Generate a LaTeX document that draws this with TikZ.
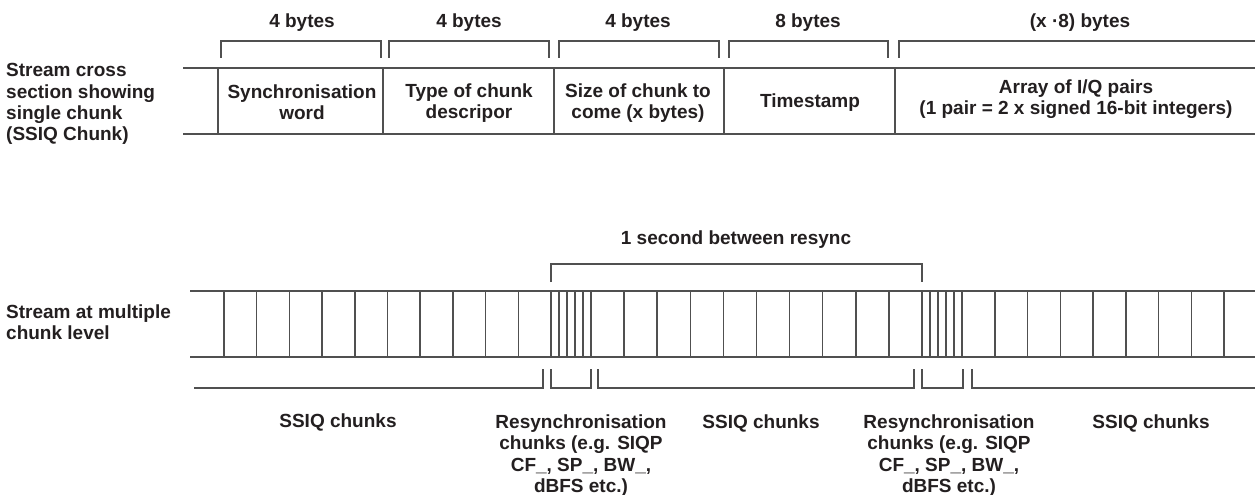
\documentclass[tikz,border=0pt]{standalone}
\usepackage{fontspec}
\setmainfont{Liberation Sans}
\definecolor{linegrey}{HTML}{505050}
\definecolor{textdark}{HTML}{231F20}
\tikzset{
  ln/.style={draw=linegrey, line width=1.5pt},
  lbl/.style={anchor=base, inner sep=0pt, text=textdark, font=\fontsize{19}{21}\bfseries\selectfont},
  lbll/.style={lbl, anchor=base west},
}
\begin{document}
\begin{tikzpicture}[x=1pt,y=-1pt]
\useasboundingbox (0,0) rectangle (1255,495);
% ---------- top: single chunk ----------
\node[lbll] (l1a) at (6,76.5) {Stream cross};
\node[lbll] (l1b) at (6,98) {section showing};
\node[lbll] (l1c) at (6,119) {single chunk};
\node[lbll] (l1d) at (6,140) {(SSIQ Chunk)};

\draw[ln] (183,68) -- (1256,68);
\draw[ln] (183,134) -- (1256,134);
\foreach \x in {218,383,554,724,895} \draw[ln] (\x,68) -- (\x,134);

% byte brackets
\draw[ln] (221,58) -- (221,41) -- (381,41) -- (381,58);
\draw[ln] (389,58) -- (389,41) -- (549,41) -- (549,58);
\draw[ln] (559,58) -- (559,41) -- (719,41) -- (719,58);
\draw[ln] (729,58) -- (729,41) -- (888,41) -- (888,58);
\draw[ln] (899,58) -- (899,41) -- (1256,41);

\node[lbl] (b1) at (302,27.5) {4 bytes};
\node[lbl] (b2) at (469,27.5) {4 bytes};
\node[lbl] (b3) at (638,27.5) {4 bytes};
\node[lbl] (b4) at (808,27.5) {8 bytes};
\node[lbl] (b5) at (1080,27.5) {(x ·8) bytes};

\node[lbl] (c1a) at (302,98.5) {Synchronisation};
\node[lbl] (c1b) at (302,119.5) {word};
\node[lbl] (c2a) at (469,97) {Type of chunk};
\node[lbl] (c2b) at (469,118) {descripor};
\node[lbl] (c3a) at (638,97) {Size of chunk to};
\node[lbl] (c3b) at (638,118) {come (x bytes)};
\node[lbl] (c4) at (810,107.5) {Timestamp};
\node[lbl] (c5a) at (1076,93) {Array of I/Q pairs};
\node[lbl] (c5b) at (1076,114.5) {(1 pair = 2 x signed 16-bit integers)};

% ---------- bottom: multiple chunks ----------
\node[lbll] (l2a) at (6,318) {Stream at multiple};
\node[lbll] (l2b) at (6,339) {chunk level};

\node[lbl] (sec) at (736,244) {1 second between resync};
\draw[ln] (551,282) -- (551,264) -- (922,264) -- (922,282);

\draw[ln] (190,291) -- (1256,291);
\draw[ln] (190,357) -- (1256,357);
\foreach \i in {0,...,10} \draw[ln] ({224+\i*32.7},291) -- ++(0,66);
\foreach \i in {1,...,4} \draw[ln] ({551+\i*8},291) -- ++(0,66);
\foreach \i in {0,...,10} \draw[ln] ({591+\i*33.1},291) -- ++(0,66);
\foreach \i in {1,...,4} \draw[ln] ({922+\i*8},291) -- ++(0,66);
\foreach \i in {0,...,8} \draw[ln] ({962+\i*32.75},291) -- ++(0,66);

% lower brackets
\draw[ln] (194,388) -- (543,388) -- (543,369);
\draw[ln] (551,369) -- (551,388) -- (591,388) -- (591,369);
\draw[ln] (598,369) -- (598,388) -- (914,388) -- (914,369);
\draw[ln] (922,369) -- (922,388) -- (963,388) -- (963,369);
\draw[ln] (972,369) -- (972,388) -- (1256,388);

\node[lbl] (s1) at (338,427) {SSIQ chunks};
\node[lbl] (s2) at (761,428) {SSIQ chunks};
\node[lbl] (s3) at (1151,428) {SSIQ chunks};

\node[lbl] (r1a) at (581,428) {Resynchronisation};
\node[lbl] (r1b) at (581,449.5) {chunks (e.g. SIQP};
\node[lbl] (r1c) at (581,471) {CF\_, SP\_, BW\_,};
\node[lbl] (r1d) at (581,492) {dBFS etc.)};
\node[lbl] (r2a) at (949,428) {Resynchronisation};
\node[lbl] (r2b) at (949,449.5) {chunks (e.g. SIQP};
\node[lbl] (r2c) at (949,471) {CF\_, SP\_, BW\_,};
\node[lbl] (r2d) at (949,492) {dBFS etc.)};
\end{tikzpicture}
\end{document}
